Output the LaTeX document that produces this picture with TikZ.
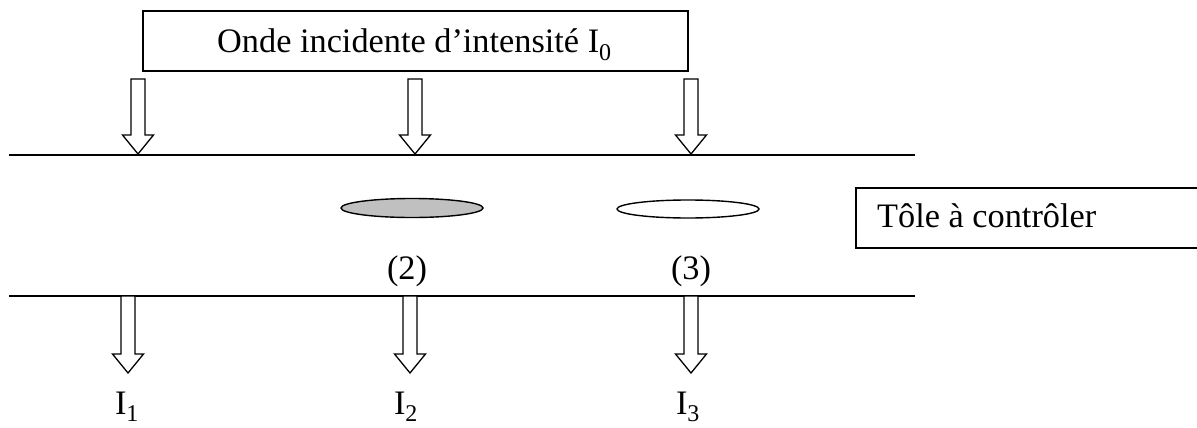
\documentclass[tikz,border=0pt]{standalone}
\usepackage{fontspec}
\setmainfont{Liberation Serif}
\usetikzlibrary{shapes.geometric}
\definecolor{plategray}{RGB}{192,192,192}
\tikzset{
  txt/.style={font=\fontsize{34.3}{40}\selectfont, inner sep=0pt},
  framebox/.style={draw, line width=1.5pt},
  beam/.style={draw, line width=1.3pt, line join=miter, fill=white},
  surf/.style={line width=1.5pt},
  defect/.style={draw, line width=1.4pt, ellipse, inner sep=0pt}
}
% block arrow: #1 name, #2 x centre, #3 top y, #4 tip y
\newcommand\beamarrow[4]{%
  \coordinate (#1) at (#2,#4);
  \draw[beam] (#2-7,#3) -- (#2+7,#3) -- (#2+7,#4-19) -- (#2+15.5,#4-19)
     -- (#1) -- (#2-15.5,#4-19) -- (#2-7,#4-19) -- cycle;}
\begin{document}
\begin{tikzpicture}[x=1pt,y=-1pt]
\useasboundingbox (0,0) rectangle (1197,428);
% incident wave box
\draw[framebox] (143,11) rectangle (688,71);
\node[txt, anchor=base west] (onde) at (217,53) {Onde incidente d’intensité I\textsubscript{0}};
% plate box
\draw[framebox] (856,188) rectangle (1210,248);
\node[txt, anchor=base west] (tole) at (877,227) {Tôle à contrôler};
% surfaces
\coordinate (tl) at (9,155); \coordinate (tr) at (915,155);
\coordinate (bl) at (9,296); \coordinate (br) at (915,296);
\draw[surf] (tl) -- (tr);
\draw[surf] (bl) -- (br);
% incident arrows
\beamarrow{a1}{138}{79}{154}
\beamarrow{a2}{415}{79}{154}
\beamarrow{a3}{691}{79}{154}
% transmitted arrows
\beamarrow{b1}{128}{296}{373}
\beamarrow{b2}{410}{296}{373}
\beamarrow{b3}{691}{296}{373}
% defects
\node[defect, fill=plategray, minimum width=142pt, minimum height=19pt] (d2) at (412,208) {};
\node[defect, fill=white, minimum width=142pt, minimum height=18pt] (d3) at (688,209) {};
% labels
\node[txt] (l2) at (407,271) {(2)};
\node[txt] (l3) at (691,271) {(3)};
\node[txt, anchor=base] (i1) at (127,414) {I\textsubscript{1}};
\node[txt, anchor=base] (i2) at (406,414) {I\textsubscript{2}};
\node[txt, anchor=base] (i3) at (688,414) {I\textsubscript{3}};
\end{tikzpicture}
\end{document}
